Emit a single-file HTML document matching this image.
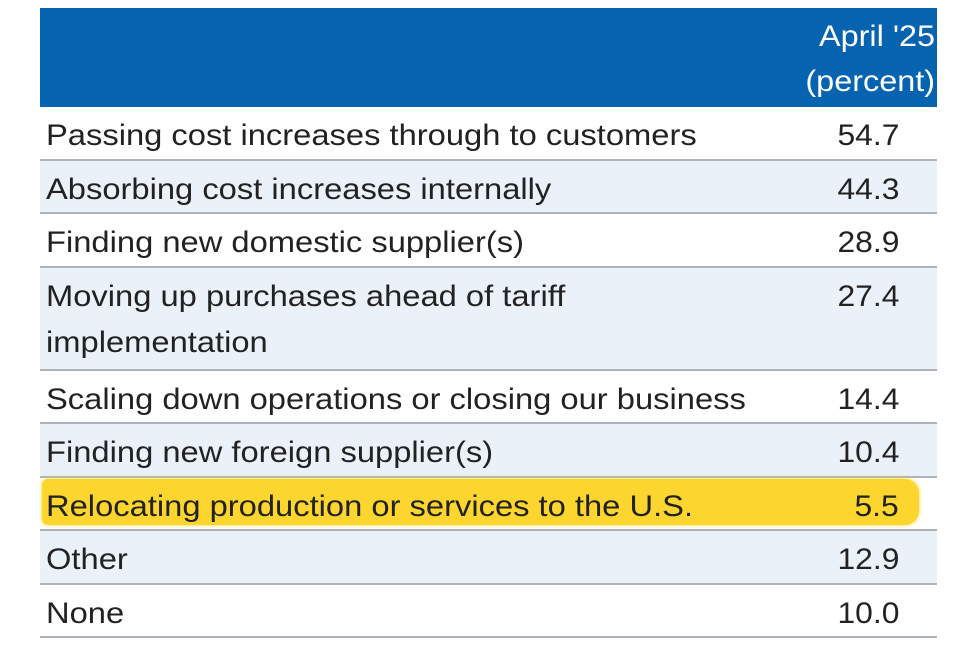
<!DOCTYPE html>
<html><head><meta charset="utf-8">
<style>
body{margin:0;width:968px;height:664px;background:#fff;overflow:hidden;font-family:"Liberation Sans",sans-serif;color:#222;}
#wrap{position:relative;width:968px;height:664px;}
.hdr{position:absolute;left:40px;top:8px;width:897px;height:99px;background:#0563b0;}
.hdr .t{position:absolute;right:2px;top:6px;color:#fff;font-size:30px;line-height:45px;text-align:right;transform:scaleX(1.08);transform-origin:right top;}
.row{position:absolute;left:40px;width:897px;border-bottom:2px solid #aeb3b8;box-sizing:border-box;}
.row.alt{background:#eaf1f9;}
.lbl{position:absolute;left:6px;font-size:30px;line-height:46px;white-space:nowrap;transform:scaleX(1.09);transform-origin:left top;}
.val{position:absolute;right:38px;font-size:30px;line-height:46px;text-align:right;transform:scaleX(1.06);transform-origin:right top;}
.hl{position:absolute;left:42px;top:485px;width:877px;height:46px;background:#fcd62e;border-radius:6px 14px 14px 6px;box-shadow:0 0 4px #fcd62e;}
</style></head><body>
<div id="wrap">
<div class="hdr"><div class="t">April '25<br>(percent)</div></div>
<div id="rows"></div>
</div>
<script>
const labels=["Passing cost increases through to customers","Absorbing cost increases internally","Finding new domestic supplier(s)","Moving up purchases ahead of tariff<br>implementation","Scaling down operations or closing our business","Finding new foreign supplier(s)","Relocating production or services to the U.S.","Other","None"];
const values=["54.7","44.3","28.9","27.4","14.4","10.4","5.5","12.9","10.0"];
const lineCounts=[1,1,1,2,1,1,1,1,1];
const highlightIndex=6;
const wrap=document.getElementById('rows');
let y=107;
for(let i=0;i<labels.length;i++){
  const h=lineCounts[i]===2?103:53.5;
  if(i===highlightIndex){
    const hl=document.createElement('div');
    hl.className='hl';
    hl.style.top=(y+1)+'px';
    
    
    wrap.appendChild(hl);
  }
  const r=document.createElement('div');
  r.className='row'+(i%2===1?' alt':'');
  r.style.top=y+'px';r.style.height=h+'px';
  if(i===highlightIndex) r.style.background='transparent';
  
  
  const l=document.createElement('div');
  l.className='lbl';l.innerHTML=labels[i];l.style.top='6px';
  
  
  const v=document.createElement('div');
  v.className='val';v.textContent=values[i];v.style.top='6px';
  
  
  r.appendChild(l);r.appendChild(v);
  wrap.appendChild(r);
  y+=h;
}
</script>
</body></html>
